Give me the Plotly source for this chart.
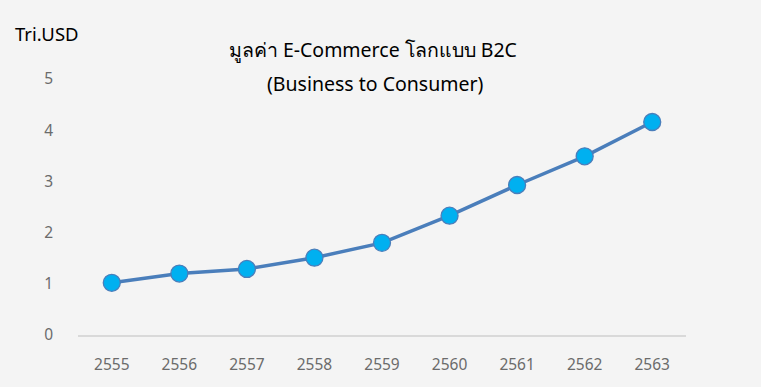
import plotly.graph_objects as go

years = ["2555", "2556", "2557", "2558", "2559", "2560", "2561", "2562", "2563"]
values = [1.02, 1.20, 1.29, 1.51, 1.80, 2.33, 2.93, 3.49, 4.16]
y_ticks = [0, 1, 2, 3, 4, 5]

font_family = "Tahoma, 'Noto Sans', 'DejaVu Sans', sans-serif"

fig = go.Figure()
fig.add_trace(go.Scatter(
    x=years, y=values, mode="lines+markers",
    line=dict(color="#4a7ebb", width=3.5),
    marker=dict(size=17, color="#00b0f0", line=dict(color="#4a7ebb", width=1.3)),
    hoverinfo="x+y", showlegend=False,
))

fig.update_layout(
    width=761, height=387,
    paper_bgcolor="#f4f4f4", plot_bgcolor="#f4f4f4",
    margin=dict(l=78, r=75, t=79, b=48),
    font=dict(family=font_family),
    title=dict(
        text="มูลค่า E-Commerce โลกแบบ B2C",
        x=0.49, xanchor="center", y=1 - 50 / 387, yanchor="middle",
        font=dict(size=19.5, color="#000000"),
    ),
    xaxis=dict(
        type="category", range=[-0.5, 8.5], showgrid=False, showline=True,
        linecolor="#d9d9d9", linewidth=1.5,
        ticks="", tickfont=dict(size=15.5, color="#6b6b6b"), ticklabelstandoff=15,
        zeroline=False,
    ),
    yaxis=dict(
        range=[0, 5], tickvals=y_ticks, showgrid=False, zeroline=False, showline=False,
        ticks="", tickfont=dict(size=15.5, color="#6b6b6b"), ticklabelstandoff=24,
    ),
    annotations=[
        dict(
            text="(Business to Consumer)", xref="paper", yref="paper",
            x=0.49, y=(387 - 48 - 84) / (387 - 79 - 48),
            xanchor="center", yanchor="middle", showarrow=False,
            font=dict(size=19.5, color="#000000"),
        ),
        dict(
            text="Tri.USD", xref="paper", yref="paper", x=-65 / 608, y=(387 - 48 - 33) / 260,
            xanchor="left", yanchor="middle", showarrow=False,
            font=dict(size=18.5, color="#000000"),
        ),
    ],
)

fig.write_html("out.html", post_script="document.body.style.margin='0';",
               config={"displayModeBar": False})
